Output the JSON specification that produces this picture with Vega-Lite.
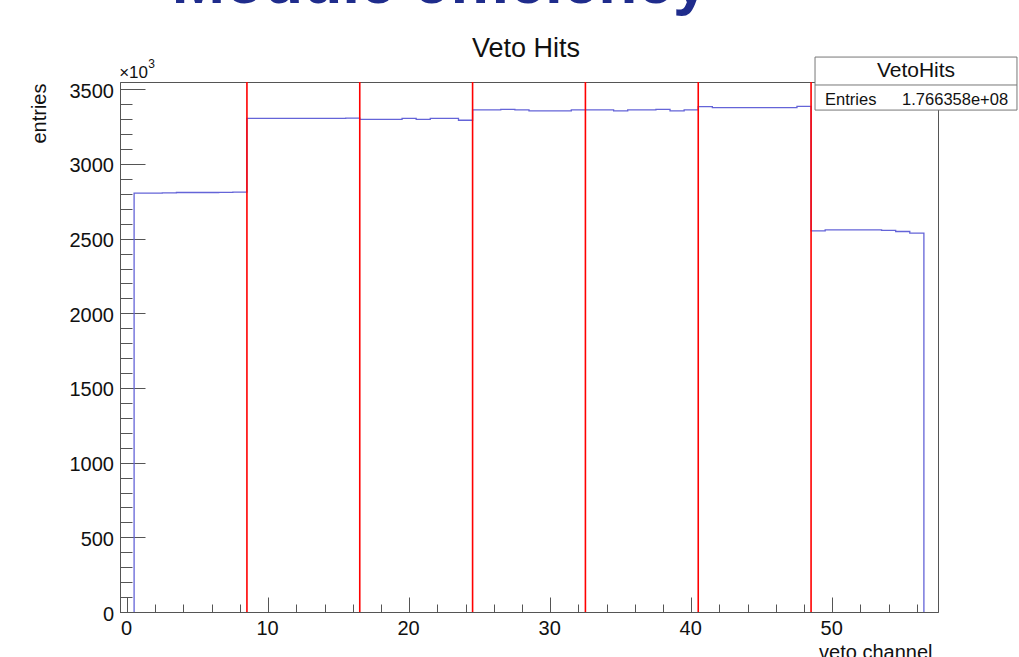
{
  "$schema": "https://vega.github.io/schema/vega-lite/v6.json",
  "autosize": {"type": "none"},
  "padding": {"left": 120, "top": 82, "right": 81, "bottom": 45},
  "width": 818,
  "height": 530,
  "background": "white",
  "title": {
    "text": "Veto Hits",
    "font": "Liberation Sans",
    "fontSize": 27,
    "fontWeight": "normal",
    "color": "#111111",
    "anchor": "middle",
    "frame": "group",
    "baseline": "alphabetic",
    "offset": -132,
    "dx": -3
  },
  "config": {
    "view": {"stroke": "#555555", "strokeWidth": 1},
    "axis": {
      "grid": false,
      "labelFont": "Liberation Sans",
      "titleFont": "Liberation Sans",
      "labelFontSize": 20,
      "titleFontSize": 20,
      "titleFontWeight": "normal",
      "labelColor": "#111111",
      "titleColor": "#111111",
      "domainColor": "#555555",
      "tickColor": "#555555",
      "tickWidth": 1
    }
  },
  "datasets": {
    "outline": [
      {"bin_low": 0.5, "entries": 0},
      {"bin_low": 0.5, "entries": 2805},
      {"bin_low": 1.5, "entries": 2805},
      {"bin_low": 2.5, "entries": 2806},
      {"bin_low": 3.5, "entries": 2809},
      {"bin_low": 4.5, "entries": 2809},
      {"bin_low": 5.5, "entries": 2809},
      {"bin_low": 6.5, "entries": 2810},
      {"bin_low": 7.5, "entries": 2811},
      {"bin_low": 8.5, "entries": 3306},
      {"bin_low": 9.5, "entries": 3306},
      {"bin_low": 10.5, "entries": 3306},
      {"bin_low": 11.5, "entries": 3306},
      {"bin_low": 12.5, "entries": 3306},
      {"bin_low": 13.5, "entries": 3306},
      {"bin_low": 14.5, "entries": 3306},
      {"bin_low": 15.5, "entries": 3307},
      {"bin_low": 16.5, "entries": 3299},
      {"bin_low": 17.5, "entries": 3299},
      {"bin_low": 18.5, "entries": 3299},
      {"bin_low": 19.5, "entries": 3306},
      {"bin_low": 20.5, "entries": 3299},
      {"bin_low": 21.5, "entries": 3305},
      {"bin_low": 22.5, "entries": 3305},
      {"bin_low": 23.5, "entries": 3293},
      {"bin_low": 24.5, "entries": 3362},
      {"bin_low": 25.5, "entries": 3362},
      {"bin_low": 26.5, "entries": 3366},
      {"bin_low": 27.5, "entries": 3362},
      {"bin_low": 28.5, "entries": 3355},
      {"bin_low": 29.5, "entries": 3355},
      {"bin_low": 30.5, "entries": 3355},
      {"bin_low": 31.5, "entries": 3362},
      {"bin_low": 32.5, "entries": 3362},
      {"bin_low": 33.5, "entries": 3362},
      {"bin_low": 34.5, "entries": 3355},
      {"bin_low": 35.5, "entries": 3362},
      {"bin_low": 36.5, "entries": 3362},
      {"bin_low": 37.5, "entries": 3366},
      {"bin_low": 38.5, "entries": 3355},
      {"bin_low": 39.5, "entries": 3362},
      {"bin_low": 40.5, "entries": 3384},
      {"bin_low": 41.5, "entries": 3377},
      {"bin_low": 42.5, "entries": 3377},
      {"bin_low": 43.5, "entries": 3377},
      {"bin_low": 44.5, "entries": 3377},
      {"bin_low": 45.5, "entries": 3377},
      {"bin_low": 46.5, "entries": 3377},
      {"bin_low": 47.5, "entries": 3386},
      {"bin_low": 48.5, "entries": 2552},
      {"bin_low": 49.5, "entries": 2559},
      {"bin_low": 50.5, "entries": 2559},
      {"bin_low": 51.5, "entries": 2559},
      {"bin_low": 52.5, "entries": 2559},
      {"bin_low": 53.5, "entries": 2555},
      {"bin_low": 54.5, "entries": 2548},
      {"bin_low": 55.5, "entries": 2537},
      {"bin_low": 56.5, "entries": 0}
    ],
    "boundaries": [
      {"boundary": 8.5},
      {"boundary": 16.5},
      {"boundary": 24.5},
      {"boundary": 32.5},
      {"boundary": 40.5},
      {"boundary": 48.5}
    ],
    "stats": [
      {"name": "VetoHits", "label": "Entries", "value": "1.766358e+08", "exponent": "×10", "power": "3", "heading": "Module efficiency"}
    ]
  },
  "resolve": {"axis": {"x": "independent", "y": "independent"}},
  "layer": [
    {
      "data": {"name": "outline"},
      "mark": {"type": "line", "interpolate": "step-after", "color": "#6464d8", "strokeWidth": 1.3, "clip": false},
      "encoding": {
        "x": {
          "field": "bin_low", "type": "quantitative",
          "scale": {"domain": [-0.5, 57.5], "nice": false, "zero": false},
          "axis": {
            "orient": "bottom",
            "values": [0, 10, 20, 30, 40, 50],
            "format": "d",
            "tickSize": -15,
            "labelPadding": 21,
            "labelOffset": -1,
            "labelFlush": false,
            "title": "veto channel",
            "titleAnchor": "end",
            "titleAlign": "right",
            "titleBaseline": "alphabetic",
            "titleX": 812,
            "titleY": 46
          }
        },
        "y": {
          "field": "entries", "type": "quantitative",
          "scale": {"domain": [0, 3549], "nice": false},
          "axis": {
            "orient": "left",
            "values": [0, 500, 1000, 1500, 2000, 2500, 3000, 3500],
            "format": "d",
            "tickSize": -25,
            "labelPadding": 31.5,
            "labelOffset": 2,
            "labelFlush": false,
            "title": "entries",
            "titleAngle": -90,
            "titleAlign": "right",
            "titleBaseline": "alphabetic",
            "titleX": -75,
            "titleY": 1
          }
        },
        "order": {"value": null}
      }
    },
    {
      "data": {"name": "boundaries"},
      "mark": {"type": "rule", "color": "#ff0000", "strokeWidth": 1.6},
      "encoding": {
        "x": {
          "field": "boundary", "type": "quantitative",
          "axis": {
            "orient": "bottom",
            "values": [0, 2, 4, 6, 8, 10, 12, 14, 16, 18, 20, 22, 24, 26, 28, 30, 32, 34, 36, 38, 40, 42, 44, 46, 48, 50, 52, 54, 56],
            "tickSize": -8,
            "labels": false,
            "domain": false,
            "title": null
          }
        },
        "y": {
          "datum": 0, "type": "quantitative",
          "axis": {
            "orient": "left",
            "values": [0, 100, 200, 300, 400, 500, 600, 700, 800, 900, 1000, 1100, 1200, 1300, 1400, 1500, 1600, 1700, 1800, 1900, 2000, 2100, 2200, 2300, 2400, 2500, 2600, 2700, 2800, 2900, 3000, 3100, 3200, 3300, 3400, 3500],
            "tickSize": -12,
            "labels": false,
            "domain": false,
            "title": null
          }
        },
        "y2": {"datum": 3549}
      }
    },
    {
      "data": {"name": "stats"},
      "mark": {"type": "rect", "fill": "white", "stroke": "#777777", "strokeWidth": 1, "clip": false},
      "encoding": {
        "x": {"datum": 48.78, "type": "quantitative", "axis": null},
        "x2": {"datum": 63.1},
        "y": {"datum": 3716, "type": "quantitative", "axis": null},
        "y2": {"datum": 3361}
      }
    },
    {
      "data": {"name": "stats"},
      "mark": {"type": "rule", "stroke": "#777777", "strokeWidth": 1, "clip": false},
      "encoding": {
        "x": {"datum": 48.78, "type": "quantitative", "axis": null},
        "x2": {"datum": 63.1},
        "y": {"datum": 3529, "type": "quantitative", "axis": null}
      }
    },
    {
      "data": {"name": "stats"},
      "mark": {"type": "text", "font": "Liberation Sans", "fontSize": 21, "color": "#111111", "align": "center", "baseline": "alphabetic", "clip": false},
      "encoding": {
        "x": {"datum": 55.94, "type": "quantitative", "axis": null},
        "y": {"datum": 3584, "type": "quantitative", "axis": null},
        "text": {"field": "name"}
      }
    },
    {
      "data": {"name": "stats"},
      "mark": {"type": "text", "font": "Liberation Sans", "fontSize": 16.5, "color": "#111111", "align": "left", "baseline": "alphabetic", "clip": false},
      "encoding": {
        "x": {"datum": 49.49, "type": "quantitative", "axis": null},
        "y": {"datum": 3395, "type": "quantitative", "axis": null},
        "text": {"field": "label"}
      }
    },
    {
      "data": {"name": "stats"},
      "mark": {"type": "text", "font": "Liberation Sans", "fontSize": 16.5, "color": "#111111", "align": "right", "baseline": "alphabetic", "clip": false},
      "encoding": {
        "x": {"datum": 62.47, "type": "quantitative", "axis": null},
        "y": {"datum": 3395, "type": "quantitative", "axis": null},
        "text": {"field": "value"}
      }
    },
    {
      "data": {"name": "stats"},
      "mark": {"type": "text", "font": "Liberation Sans", "fontSize": 17, "color": "#111111", "align": "left", "baseline": "alphabetic", "clip": false},
      "encoding": {
        "x": {"datum": -0.56, "type": "quantitative", "axis": null},
        "y": {"datum": 3574, "type": "quantitative", "axis": null},
        "text": {"field": "exponent"}
      }
    },
    {
      "data": {"name": "stats"},
      "mark": {"type": "text", "font": "Liberation Sans", "fontSize": 12, "color": "#111111", "align": "left", "baseline": "alphabetic", "clip": false},
      "encoding": {
        "x": {"datum": 1.5, "type": "quantitative", "axis": null},
        "y": {"datum": 3640, "type": "quantitative", "axis": null},
        "text": {"field": "power"}
      }
    },
    {
      "data": {"name": "stats"},
      "mark": {"type": "text", "font": "Liberation Sans", "fontSize": 64, "fontWeight": "bold", "color": "#1f2c8c", "align": "center", "baseline": "alphabetic", "clip": false},
      "encoding": {
        "x": {"datum": 22.2, "type": "quantitative", "axis": null},
        "y": {"datum": 4078, "type": "quantitative", "axis": null},
        "text": {"field": "heading"}
      }
    }
  ]
}
